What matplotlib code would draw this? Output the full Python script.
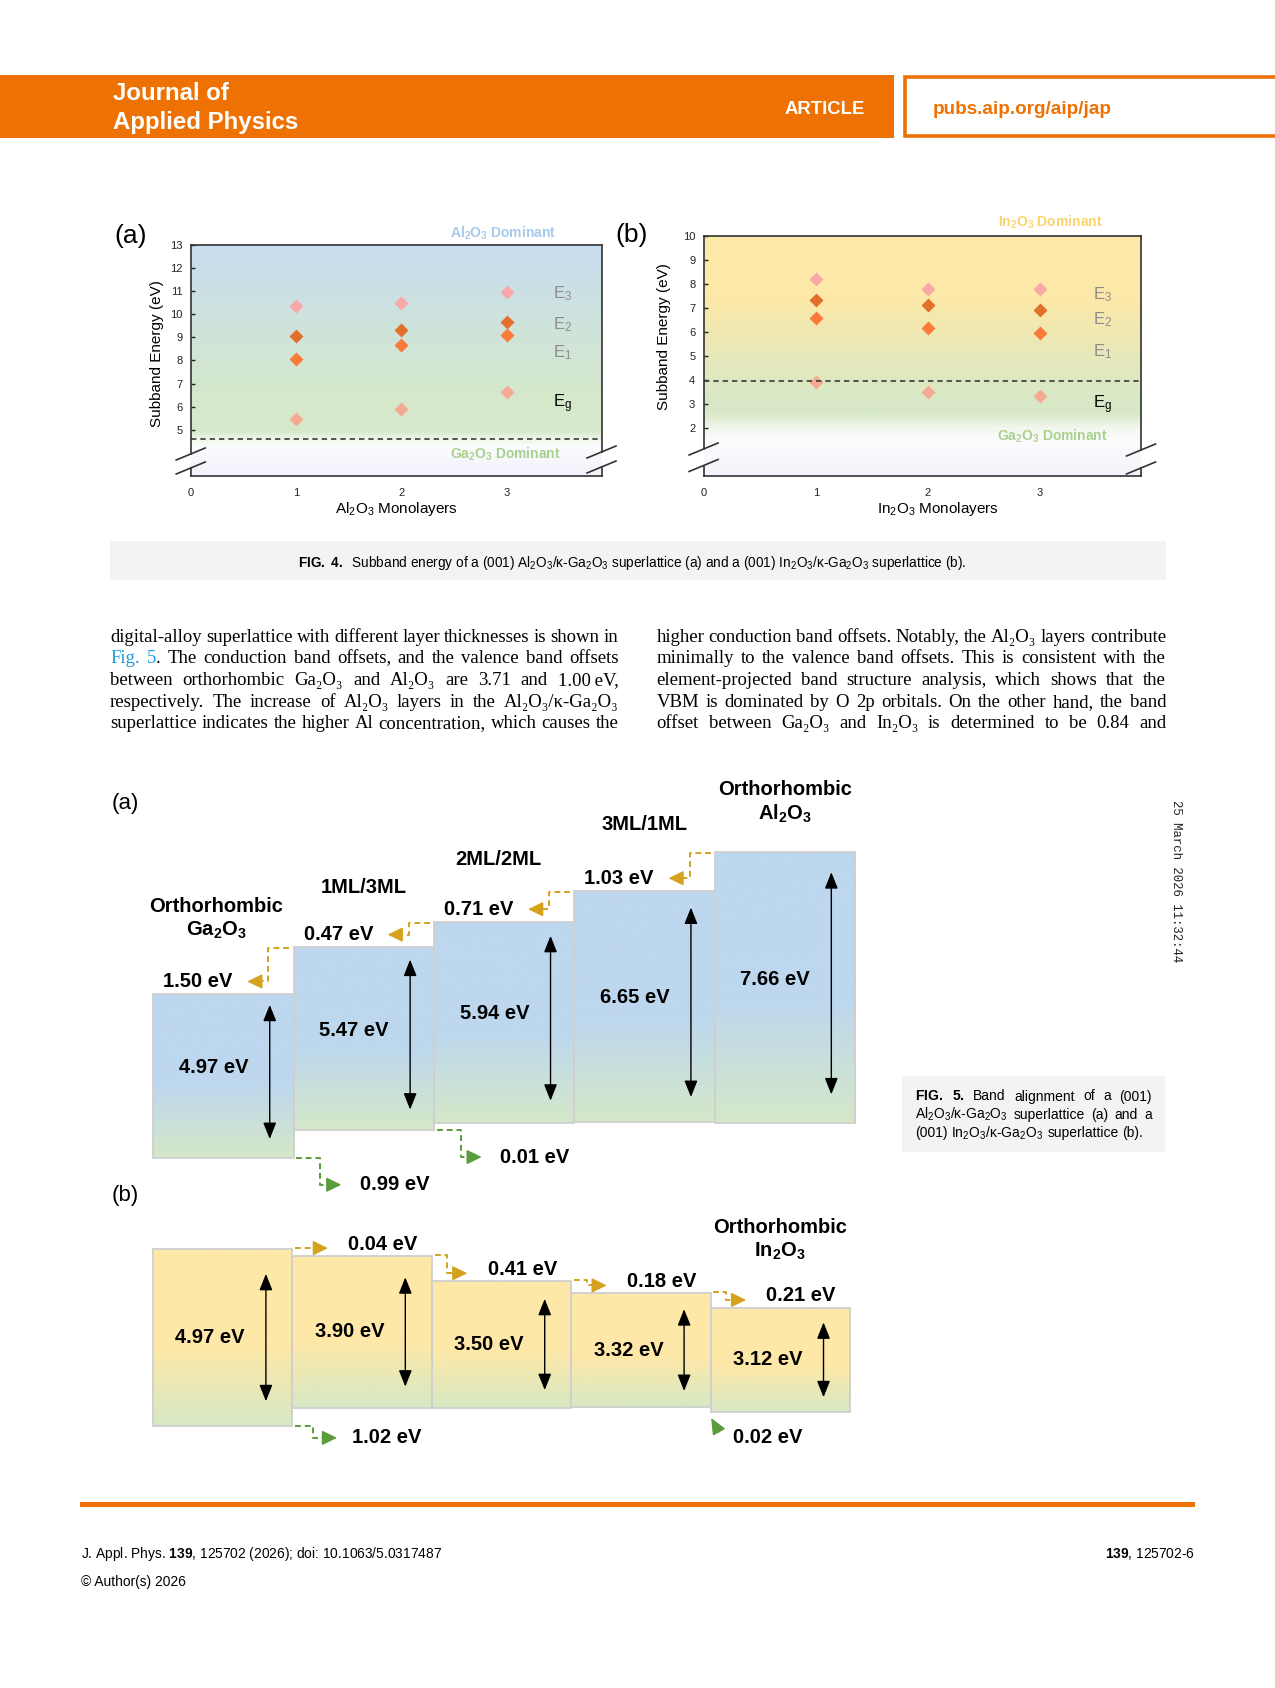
import numpy as np
import matplotlib
matplotlib.use('Agg')
from matplotlib import pyplot as plt
from matplotlib.patches import Rectangle
from matplotlib.colors import to_rgb

plt.rcParams['font.family'] = ['Liberation Sans', 'DejaVu Sans']
plt.rcParams['mathtext.fontset'] = 'custom'
plt.rcParams['mathtext.rm'] = 'Liberation Sans'
plt.rcParams['mathtext.it'] = 'Liberation Sans:italic'
plt.rcParams['mathtext.bf'] = 'Liberation Sans:bold'

# ---------------- FIG. 4 data : subband energies (eV)
monolayers = [1, 2, 3]
xticks4 = [0, 1, 2, 3]
al_E3 = [10.38, 10.48, 10.97]
al_E2 = [9.04, 9.33, 9.66]
al_E1 = [8.06, 8.66, 9.12]
al_Eg = [5.48, 5.92, 6.63]
al_limit = 4.6
in_E3 = [8.21, 7.79, 7.79]
in_E2 = [7.34, 7.13, 6.93]
in_E1 = [6.57, 6.18, 5.96]
in_Eg = [3.93, 3.51, 3.34]
in_limit = 3.95
a_yticks = list(range(5, 14))
b_yticks = list(range(2, 11))
e_names = ['E$_3$', 'E$_2$', 'E$_1$', 'E$_\\mathrm{g}$']

# ---------------- FIG. 5 data : band alignment (schematic band edges)
heads_a = ['Orthorhombic\nGa$_\\mathbf{2}$O$_\\mathbf{3}$', '1ML/3ML', '2ML/2ML', '3ML/1ML',
           'Orthorhombic\nAl$_\\mathbf{2}$O$_\\mathbf{3}$']
gap_a = ['4.97 eV', '5.47 eV', '5.94 eV', '6.65 eV', '7.66 eV']
vbm_a = [0.00, 0.84, 1.06, 1.09, 1.06]
cbm_a = [4.96, 6.38, 7.15, 8.09, 9.27]
cbo_a = ['1.50 eV', '0.47 eV', '0.71 eV', '1.03 eV']
vbo_a = {0: '0.99 eV', 1: '0.01 eV'}

heads_b = ['', '', '', '', 'Orthorhombic\nIn$_\\mathbf{2}$O$_\\mathbf{3}$']
gap_b = ['4.97 eV', '3.90 eV', '3.50 eV', '3.32 eV', '3.12 eV']
vbm_b = [0.00, 0.55, 0.55, 0.58, 0.43]
cbm_b = [5.36, 5.15, 4.39, 4.02, 3.58]
cbo_b = ['0.04 eV', '0.41 eV', '0.18 eV', '0.21 eV']
vbo_b = {0: '1.02 eV', 3: '0.02 eV'}

# ---------------- page text
body_left = [
    "digital-alloy superlattice with different layer thicknesses is shown in",
    "@Fig. @5¦. The conduction band offsets, and the valence band offsets",
    "between orthorhombic Ga₂O₃ and Al₂O₃ are 3.71 and 1.00\u2009eV,",
    "respectively. The increase of Al₂O₃ layers in the Al₂O₃/κ-Ga₂O₃",
    "superlattice indicates the higher Al concentration, which causes the",
]
body_right = [
    "higher conduction band offsets. Notably, the Al₂O₃ layers contribute",
    "minimally to the valence band offsets. This is consistent with the",
    "element-projected band structure analysis, which shows that the",
    "VBM is dominated by O 2p orbitals. On the other hand, the band",
    "offset between Ga₂O₃ and In₂O₃ is determined to be 0.84 and",
]
cap4 = ('$\\mathbf{FIG.\\ 4.}$  Subband energy of a (001) Al$_2$O$_3$/κ-Ga$_2$O$_3$ superlattice (a) '
        'and a (001) In$_2$O$_3$/κ-Ga$_2$O$_3$ superlattice (b).')
cap5 = [
    "$\\mathbf{FIG.}$ $\\mathbf{5.}$ Band alignment of a (001)",
    "Al$_2$O$_3$/κ-Ga$_2$O$_3$ superlattice (a) and a",
    "(001) In$_2$O$_3$/κ-Ga$_2$O$_3$ superlattice (b).",
]

ORANGE = '#ee7203'
GOLD = '#d5a21e'
GREEN = '#5a9c3c'
LINK = '#1a9bd7'

W, H = 1275, 1688
fig = plt.figure(figsize=(W / 100, H / 100), dpi=100)
renderer = fig.canvas.get_renderer()


def px_axes(x0, y0, x1, y1):
    return fig.add_axes([x0 / W, 1 - y1 / H, (x1 - x0) / W, (y1 - y0) / H])


def ftext(x, y, s, **kw):
    return fig.text(x / W, 1 - y / H, s, **kw)


def frect(x0, y0, x1, y1, **kw):
    fig.add_artist(Rectangle((x0 / W, 1 - y1 / H), (x1 - x0) / W, (y1 - y0) / H,
                             transform=fig.transFigure, **kw))


def put_line(x0, x1, y, line, size, family, justify=True):
    items = []
    for word in line.split(' '):
        parts = []
        for p in word.split('¦'):
            col = LINK if p.startswith('@') else 'black'
            parts.append(ftext(0, y, p.lstrip('@'), fontsize=size, family=family,
                               color=col, va='baseline', ha='left'))
        items.append(parts)
    widths = [[t.get_window_extent(renderer).width for t in parts] for parts in items]
    total = sum(sum(w) for w in widths)
    gap = (x1 - x0 - total) / (len(items) - 1) if justify else size * 0.28 * 100 / 72
    x = x0
    for parts, ws in zip(items, widths):
        for t, w in zip(parts, ws):
            t.set_x(x / W)
            x += w
        x += gap


def v_gradient(ax, x0, x1, y0, y1, stops, n=400):
    ys = np.linspace(y0, y1, n)
    pos = [s[0] for s in stops]
    rgb = np.array([to_rgb(s[1]) for s in stops])
    img = np.stack([np.interp(ys, pos, rgb[:, k]) for k in range(3)], axis=-1)[:, None, :]
    ax.imshow(img, extent=(x0, x1, y0, y1), origin='lower', aspect='auto',
              interpolation='bilinear', zorder=0)


# ---------------- header
frect(0, 75, 894, 138, color=ORANGE, lw=0)
frect(904.8, 76.8, 1290, 136.2, facecolor='white', edgecolor=ORANGE, lw=2.6)
ftext(113, 100.5, 'Journal of', color='white', fontsize=17.3, fontweight='bold', va='baseline')
ftext(113, 129, 'Applied Physics', color='white', fontsize=17.3, fontweight='bold', va='baseline')
ftext(784.5, 113.5, 'ARTICLE', color='white', fontsize=13.3, fontweight='bold', va='baseline')
ftext(933, 113.5, 'pubs.aip.org/aip/jap', color=ORANGE, fontsize=13.6, fontweight='bold', va='baseline')

# ---------------- FIG. 4
marker_cols = ['#f9a8a8', '#e2702a', '#fa7a3a', '#f4aa92']


def fig4_panel(box, ylim, yticks, series, dash_y, stops, top_lab, bot_lab, e_x, e_y,
               xlab, xlab_pos, ylab_pos, brk_l, brk_r):
    ax = px_axes(*box)
    x0p, y0p, x1p, y1p = box
    xlim = (0, 3.9)

    def p2d(xp, yp):
        return (xlim[0] + (xp - x0p) / (x1p - x0p) * (xlim[1] - xlim[0]),
                ylim[1] - (yp - y0p) / (y1p - y0p) * (ylim[1] - ylim[0]))

    v_gradient(ax, xlim[0], xlim[1], ylim[0], ylim[1], stops)
    for vals, col in zip(series, marker_cols):
        ax.plot(monolayers, vals, ls='none', marker='D', ms=7.2, color=col, mec='none', zorder=3)
    ax.axhline(dash_y, color='#3a3a3a', lw=1.2, ls=(0, (3.2, 2.4)), zorder=4)
    ax.set_xlim(xlim)
    ax.set_ylim(ylim)
    ax.set_xticks(xticks4)
    ax.set_yticks(yticks)
    ax.tick_params(axis='y', direction='in', length=3, width=1, labelsize=8, pad=6, colors='#222')
    ax.tick_params(axis='x', length=0, labelsize=8, pad=9, colors='#222')
    for side in ('left', 'right'):
        ax.spines[side].set_visible(False)
    for side in ('top', 'bottom'):
        ax.spines[side].set_color('#333')
        ax.spines[side].set_linewidth(1.2)
    for xs, xp, brk in ((xlim[0], x0p, brk_l), (xlim[1], x1p, brk_r)):
        yb1 = p2d(xp, brk[0])[1]
        yb2 = p2d(xp, brk[1])[1]
        ax.plot([xs, xs], [ylim[1], yb1], color='#333', lw=1.2, clip_on=False, zorder=5)
        ax.plot([xs, xs], [yb2, ylim[0]], color='#333', lw=1.2, clip_on=False, zorder=5)
        for yb in brk:
            xa, ya = p2d(xp - 14.5, yb + 6)
            xb, yb_ = p2d(xp + 14.5, yb - 6)
            ax.plot([xa, xb], [ya, yb_], color='#333', lw=1.2, clip_on=False, zorder=5)
    for s, yv, col in zip(e_names, e_y, ['#8c8c8c', '#8c8c8c', '#8c8c8c', 'black']):
        ax.text(e_x, yv, s, fontsize=12, color=col, ha='center', va='center', zorder=5)
    for s, xv, yv, col in (top_lab, bot_lab):
        ax.text(xv, yv, s, fontsize=10, fontweight='bold', color=col, ha='center', va='center',
                clip_on=False, zorder=5)
    ax.text(xlab_pos[0], xlab_pos[1], xlab, transform=ax.transAxes, fontsize=11,
            ha='center', va='center')
    ax.text(ylab_pos[0], ylab_pos[1], 'Subband Energy (eV)', transform=ax.transAxes, fontsize=11,
            ha='center', va='center', rotation=90)
    return ax


fig4_panel((190.7, 245, 601.5, 476), (3, 13), a_yticks, [al_E3, al_E2, al_E1, al_Eg], al_limit,
           [(3.0, '#f2f3fb'), (4.3, '#fbfcfd'), (4.55, '#f2f8ec'), (4.95, '#d8e9ca'),
            (6.5, '#d5e8cb'), (13.0, '#c8ddf0')],
           ('Al$_\\mathbf{2}$O$_\\mathbf{3}$ Dominant', 2.97, 13.52, '#a9c9ec'),
           ('Ga$_\\mathbf{2}$O$_\\mathbf{3}$ Dominant', 2.99, 3.95, '#a9d18e'),
           3.53, [10.88, 9.54, 8.34, 6.12], 'Al$_2$O$_3$ Monolayers', (0.5, -0.143),
           (-0.082, 0.532), (454, 468), (452, 467))

fig4_panel((703.6, 236, 1141, 476), (0, 10), b_yticks, [in_E3, in_E2, in_E1, in_Eg], in_limit,
           [(0.0, '#f3f4fb'), (1.5, '#fcfcfd'), (2.0, '#f3f7ee'), (2.6, '#d8e9c8'),
            (3.3, '#d8e8c6'), (7.5, '#fde9a8'), (10.0, '#fde9a8')],
           ('In$_\\mathbf{2}$O$_\\mathbf{3}$ Dominant', 3.09, 10.58, '#fbd46a'),
           ('Ga$_\\mathbf{2}$O$_\\mathbf{3}$ Dominant', 3.11, 1.64, '#a9d18e'),
           3.56, [7.57, 6.5, 5.19, 2.97], 'In$_2$O$_3$ Monolayers', (0.536, -0.1375),
           (-0.0915, 0.58), (449, 465.5), (450, 468))

ftext(131, 236, '(a)', fontsize=19, ha='center', va='center')
ftext(632, 235, '(b)', fontsize=19, ha='center', va='center')

frect(110, 541, 1166, 580, color='#f2f3f3', lw=0)
ftext(632, 567, cap4, fontsize=9.85, ha='center', va='baseline')

# ---------------- body text
for k, line in enumerate(body_left):
    put_line(110, 618.6, 641.5 + 21.7 * k, line, 13.5, ['Liberation Serif', 'DejaVu Serif'])
for k, line in enumerate(body_right):
    put_line(656.5, 1166, 641.5 + 21.7 * k, line, 13.5, ['Liberation Serif', 'DejaVu Serif'])

# ---------------- FIG. 5
bold5 = dict(fontsize=14.5, fontweight='bold', zorder=5)


def dashed_arrow(ax, pts, color, head=0.09):
    (xa, ya), (xt, yt) = pts[-2], pts[-1]
    sgn = 1 if xt > xa else -1
    pre = (xt - sgn * head, yt)
    xs = [p[0] for p in pts[:-1]] + [pre[0]]
    ys = [p[1] for p in pts[:-1]] + [pre[1]]
    ax.plot(xs, ys, color=color, lw=1.4, ls=(0, (3, 2)), zorder=3, clip_on=False)
    ax.annotate('', xy=(xt, yt), xytext=pre,
                arrowprops=dict(arrowstyle='-|>,head_length=0.45,head_width=0.22', mutation_scale=20,
                                color=color, lw=1.2, shrinkA=0, shrinkB=0))


def fig5_panel(area, x_org, x_unit, y_org, y_unit, vbm, cbm, gaps, heads, head_off,
               top_col, bot_col, split, arrow_x, arrow_len, arrow_dy, label_x, label_dy):
    ax = px_axes(*area)
    ax.patch.set_visible(False)
    x0p, y0p, x1p, y1p = area
    for i in range(len(vbm)):
        lo, hi = vbm[i], cbm[i]
        v_gradient(ax, i, i + 1, lo, hi,
                   [(lo, bot_col), (lo + split * (hi - lo), top_col), (hi, top_col)])
        ax.add_patch(Rectangle((i, lo), 1, hi - lo, fill=False, ec='#cfcfcf', lw=1.3, zorder=2))
        mid = (lo + hi) / 2 + arrow_dy
        half = arrow_len * (hi - lo) / 2
        ax.annotate('', xy=(i + arrow_x, mid + half), xytext=(i + arrow_x, mid - half),
                    arrowprops=dict(arrowstyle='<|-|>,head_length=0.5,head_width=0.2',
                                    mutation_scale=20, color='black', lw=1.0, shrinkA=0, shrinkB=0))
        ax.text(i + label_x, (lo + hi) / 2 + label_dy, gaps[i], ha='center', va='center', **bold5)
        if heads[i]:
            dx, dy = head_off[i]
            ax.text(i + 0.5 + dx, hi + dy, heads[i], ha='center', va='center',
                    linespacing=1.25, **bold5)
    ax.set_xlim((x0p - x_org) / x_unit, (x1p - x_org) / x_unit)
    ax.set_ylim((y_org - y1p) / y_unit, (y_org - y0p) / y_unit)
    ax.axis('off')
    return ax


ax5a = fig5_panel((100, 760, 880, 1205), 153.2, 140.4, 1157.7, 33.0, vbm_a, cbm_a, gap_a, heads_a,
                  [(-0.05, 2.27), (0, 1.82), (-0.04, 1.9), (0, 2.02), (0, 1.49)],
                  '#bdd7ee', '#d5e8c8', 0.45, 0.83, 0.82, 0.12, 0.43, 0.25)
for k, lab in enumerate(cbo_a):
    b = k + 1
    y1 = cbm_a[k + 1] - 0.03
    y2 = cbm_a[k] + 0.38
    dashed_arrow(ax5a, [(b - 0.03, y1), (b - 0.18, y1), (b - 0.18, y2), (b - 0.33, y2)], GOLD)
    ax5a.text(b - 0.435, y2, lab, ha='right', va='center', **bold5)
for k, lab in vbo_a.items():
    b = k + 1
    y1 = vbm_a[k]
    y2 = vbm_a[k] - 0.82
    dashed_arrow(ax5a, [(b + 0.02, y1), (b + 0.19, y1), (b + 0.19, y2), (b + 0.34, y2)], GREEN)
    ax5a.text(b + 0.47, y2, lab, ha='left', va='center', **bold5)

ax5b = fig5_panel((100, 1205, 880, 1470), 153.0, 139.4, 1426.0, 33.0, vbm_b, cbm_b, gap_b, heads_b,
                  [(0, 0)] * 4 + [(0, 2.06)], '#fee8a8', '#d6e8c4', 0.45,
                  0.81, 0.72, 0.0, 0.41, 0.0)
for k, lab in enumerate(cbo_b):
    b = k + 1
    y1 = cbm_b[k] + 0.04
    y2 = min(y1, cbm_b[k + 1] + 0.24)
    dashed_arrow(ax5b, [(b + 0.02, y1), (b + 0.11, y1), (b + 0.11, y2), (b + 0.255, y2)], GOLD)
    ax5b.text(b + 0.4, y2 + 0.12, lab, ha='left', va='center', **bold5)
for k, lab in vbo_b.items():
    b = k + 1
    if vbm_b[k] <= vbm_b[k + 1]:
        y2 = vbm_b[k] - 0.36
        dashed_arrow(ax5b, [(b + 0.02, vbm_b[k]), (b + 0.15, vbm_b[k]), (b + 0.15, y2), (b + 0.32, y2)],
                     GREEN)
        ax5b.text(b + 0.43, y2, lab, ha='left', va='center', **bold5)
    else:
        ax5b.annotate('', xy=(b + 0.004, vbm_b[k + 1] - 0.19), xytext=(b + 0.06, vbm_b[k + 1] - 0.61),
                      arrowprops=dict(arrowstyle='-|>,head_length=0.5,head_width=0.22',
                                      mutation_scale=20, color=GREEN, lw=1.0, shrinkA=0, shrinkB=0))
        ax5b.text(b + 0.16, vbm_b[k + 1] - 0.79, lab, ha='left', va='center', **bold5)

ftext(112, 803, '(a)', fontsize=16, ha='left', va='center')
ftext(112, 1195, '(b)', fontsize=16, ha='left', va='center')

frect(902, 1076, 1165, 1152, color='#f2f3f3', lw=0)
for k, line in enumerate(cap5):
    put_line(915, 1152, 1100.5 + 18.3 * k, line, 10, ['Liberation Sans', 'DejaVu Sans'],
             justify=(k < len(cap5) - 1))

ftext(1176, 881, '25 March 2026 11:32:44', rotation=-90, family=['Liberation Mono', 'DejaVu Sans Mono'],
      fontsize=8.9, ha='center', va='center', color='#222')

# ---------------- footer
frect(80.4, 1501.7, 1194.5, 1506.7, color=ORANGE, lw=0)
ftext(80.7, 1558, 'J. Appl. Phys. $\\mathbf{139}$, 125702 (2026); doi: 10.1063/5.0317487',
      fontsize=9.95, va='baseline', ha='left')
ftext(80.7, 1586, '© Author(s) 2026', fontsize=9.95, va='baseline', ha='left')
ftext(1194.5, 1558, '$\\mathbf{139}$, 125702-6', fontsize=9.95, va='baseline', ha='right')

fig.savefig('out.png', dpi=100)
